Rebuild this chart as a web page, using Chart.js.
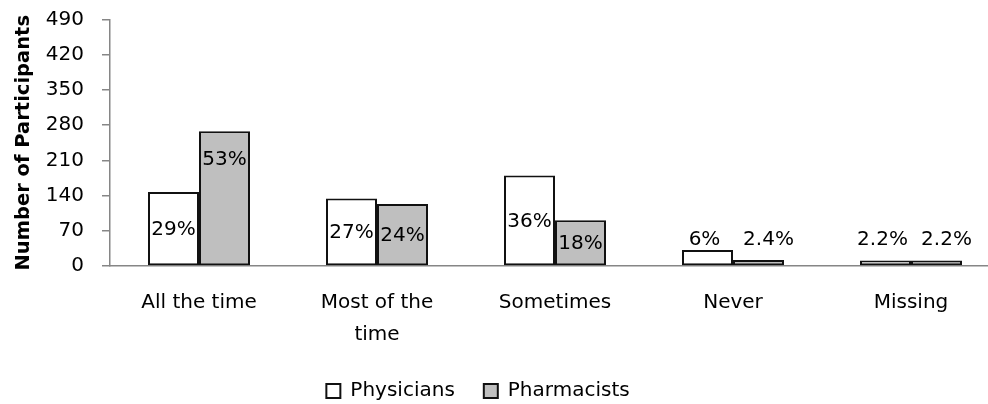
<!DOCTYPE html>
<html><head><meta charset="utf-8">
<script src="https://cdn.jsdelivr.net/npm/chart.js@4.4.0/dist/chart.umd.min.js"></script>
<style>html,body{margin:0;padding:0;background:#fff;overflow:hidden;} #wrap{width:1000px;height:404px;position:relative;}</style>
</head><body><div id="wrap"><canvas id="c"></canvas></div>
<script>
const categories = ['All the time', ['Most of the', 'time'], 'Sometimes', 'Never', 'Missing'];
const seriesNames = ['Physicians', 'Pharmacists'];
const physicians = [147, 134, 180, 32, 11];
const pharmacists = [268, 123, 91, 12, 11];
const physiciansPct = ['29%', '27%', '36%', '6%', '2.2%'];
const pharmacistsPct = ['53%', '24%', '18%', '2.4%', '2.2%'];
const yTicks = [0, 70, 140, 210, 280, 350, 420, 490];
const yTitle = 'Number of Participants';

const FONT = '"DejaVu Sans"';

const legendPlace = {
  id: 'legendPlace',
  afterLayout(c) {
    const lg = c.legend;
    if (!lg) return;
    const h = lg.bottom - lg.top;
    lg.top = 352; lg.bottom = 352 + h;
    lg.left -= 22; lg.right -= 22;
  }
};

const barLabels = {
  id: 'barLabels',
  afterDatasetsDraw(chart) {
    const ctx = chart.ctx;
    const base = chart.scales.y.getPixelForValue(0);
    chart.data.datasets.forEach((ds, di) => {
      const meta = chart.getDatasetMeta(di);
      meta.data.forEach((bar, i) => {
        const h = base - bar.y;
        let y, x = bar.x;
        if (h < 30) { y = base - 26; if (di === 1) x += 10; else x -= 3; }
        else if (h > 120) y = bar.y + 29;
        else y = (bar.y + base) / 2 + 1;
        ctx.save();
        ctx.font = '20px ' + FONT;
        ctx.fillStyle = '#000';
        ctx.textAlign = 'center';
        ctx.textBaseline = 'middle';
        ctx.fillText(ds.pct[i], x, y);
        ctx.restore();
      });
    });
  }
};

new Chart(document.getElementById('c'), {
  type: 'bar',
  data: {
    labels: categories,
    datasets: [
      { label: seriesNames[0], data: physicians, pct: physiciansPct, backgroundColor: '#ffffff', borderColor: '#111111', borderWidth: 2, borderSkipped: false, categoryPercentage: 0.573, barPercentage: 1.0 },
      { label: seriesNames[1], data: pharmacists, pct: pharmacistsPct, backgroundColor: '#bfbfbf', borderColor: '#111111', borderWidth: 2, borderSkipped: false, categoryPercentage: 0.573, barPercentage: 1.0 }
    ]
  },
  options: {
    responsive: true,
    maintainAspectRatio: false,
    animation: false,
    layout: { padding: { top: 19.5, left: 0, right: 0, bottom: 0 } },
    plugins: {
      tooltip: { enabled: false },
      legend: {
        position: 'bottom',
        maxHeight: 56,
        labels: { font: { family: 'DejaVu Sans', size: 20 }, color: '#000', boxWidth: 14, boxHeight: 14, padding: 29 }
      }
    },
    scales: {
      x: {
        grid: { display: false },
        border: { display: true, color: '#868686', width: 1.5 },
        ticks: { font: { family: 'DejaVu Sans', size: 20, lineHeight: 1.6 }, color: '#000', padding: 13, maxRotation: 0, autoSkip: false },
        afterFit(s) { s.height = 82; }
      },
      y: {
        min: 0, max: 490,
        afterBuildTicks(s) { s.ticks = yTicks.map(v => ({ value: v })); },
        ticks: { font: { family: 'DejaVu Sans', size: 20, lineHeight: 0.15 }, color: '#000', padding: 18 },
        grid: { display: true, drawOnChartArea: false, drawTicks: true, tickLength: 8, color: '#868686', lineWidth: 1.5 },
        border: { display: true, color: '#868686', width: 1.5 },
        title: { display: true, text: yTitle, font: { family: 'DejaVu Sans', size: 19.5, weight: 'bold' }, color: '#000', padding: { top: 12, bottom: 0 } },
        afterFit(s) { s.width = 110; }
      }
    }
  },
  plugins: [legendPlace, barLabels]
});
</script>
</body></html>
